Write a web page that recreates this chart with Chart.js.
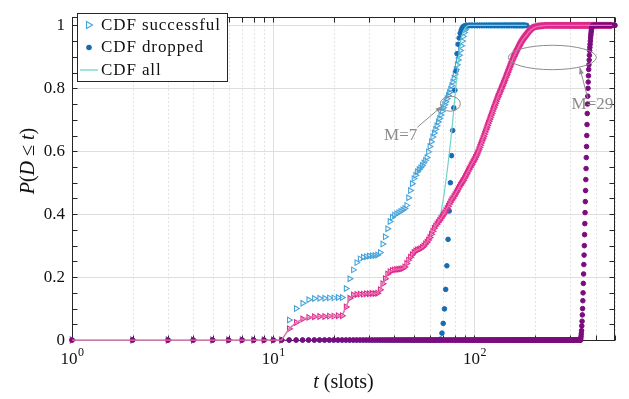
<!DOCTYPE html>
<html>
<head>
<meta charset="utf-8">
<title>Delay CDF</title>
<script src="https://cdn.jsdelivr.net/npm/chart.js@4.4.0/dist/chart.umd.min.js"></script>
<style>
  html, body { margin: 0; padding: 0; background: #fff; }
</style>
</head>
<body>
<canvas id="cdfChart" width="629" height="399"></canvas>
<script>
// ---- data (t in slots, P(D <= t)) ----
const xDecades = [1, 10, 100];
const yTicks = [0, 0.2, 0.4, 0.6, 0.8, 1];

// M = 7, successful packets, t = 12..93
const succ7Rise = [
    0.064, 0.100, 0.117, 0.128, 0.132, 0.133, 0.133, 0.134, 0.134, 0.135,
    0.135, 0.164, 0.195, 0.223, 0.246, 0.258, 0.263, 0.265, 0.267, 0.268,
    0.269, 0.270, 0.278, 0.305, 0.328, 0.354, 0.377, 0.390, 0.397, 0.401,
    0.405, 0.409, 0.413, 0.418, 0.428, 0.452, 0.475, 0.497, 0.513, 0.524,
    0.535, 0.542, 0.548, 0.555, 0.563, 0.571, 0.580, 0.598, 0.615, 0.630,
    0.645, 0.658, 0.670, 0.681, 0.693, 0.704, 0.715, 0.727, 0.738, 0.748,
    0.757, 0.767, 0.777, 0.787, 0.797, 0.808, 0.820, 0.832, 0.845, 0.860,
    0.875, 0.890, 0.905, 0.920, 0.935, 0.950, 0.965, 0.977, 0.986, 0.993,
    0.997, 0.999
];
// M = 7, dropped packets, t = 68..90
const drop7Rise = [
    0.003, 0.022, 0.053, 0.099, 0.161, 0.236, 0.320, 0.410, 0.500, 0.586,
    0.666, 0.738, 0.794, 0.855, 0.910, 0.940, 0.960, 0.975, 0.985, 0.992,
    0.996, 0.998, 0.999
];
// M = 7, all packets (line only)
const tAll7 = [1, 10, 11, 12, 13, 14, 16, 22, 23, 24, 25, 26, 33, 34, 35, 36, 37, 38, 39, 45,
    46, 48, 50, 53, 55, 58, 60, 62, 65, 67, 68, 70, 72, 74, 76, 78, 80, 82, 84, 86,
    88, 90, 92, 94, 182];
const pAll7 = [0, 0, 0, 0.036, 0.056, 0.067, 0.074, 0.077, 0.105, 0.133, 0.143, 0.145, 0.149, 0.160, 0.179, 0.195, 0.210, 0.217, 0.221, 0.232,
    0.243, 0.263, 0.278, 0.288, 0.294, 0.311, 0.326, 0.346, 0.368, 0.380, 0.400, 0.445, 0.500, 0.560, 0.625, 0.695, 0.770, 0.845, 0.915, 0.960,
    0.980, 0.992, 0.998, 1, 1];

// M = 29, successful packets, t = 12..100
const succ29Rise = [
    0.036, 0.056, 0.067, 0.072, 0.074, 0.075, 0.075, 0.076, 0.076, 0.077,
    0.077, 0.105, 0.133, 0.143, 0.145, 0.146, 0.146, 0.147, 0.147, 0.148,
    0.148, 0.149, 0.160, 0.179, 0.195, 0.210, 0.217, 0.221, 0.223, 0.224,
    0.225, 0.226, 0.227, 0.232, 0.243, 0.254, 0.263, 0.271, 0.278, 0.283,
    0.286, 0.288, 0.290, 0.294, 0.299, 0.305, 0.311, 0.318, 0.326, 0.336,
    0.346, 0.355, 0.362, 0.368, 0.374, 0.380, 0.386, 0.392, 0.398, 0.404,
    0.411, 0.418, 0.425, 0.432, 0.439, 0.445, 0.450, 0.456, 0.462, 0.468,
    0.474, 0.480, 0.486, 0.492, 0.497, 0.502, 0.507, 0.513, 0.519, 0.525,
    0.531, 0.537, 0.543, 0.548, 0.554, 0.559, 0.564, 0.569, 0.574
];
// t = 101..200
const succ29Upper = [
    0.580, 0.586, 0.592, 0.598, 0.605, 0.612, 0.619, 0.626, 0.633, 0.640,
    0.647, 0.654, 0.661, 0.668, 0.675, 0.682, 0.689, 0.695, 0.702, 0.708,
    0.715, 0.721, 0.728, 0.734, 0.740, 0.746, 0.752, 0.758, 0.764, 0.770,
    0.775, 0.780, 0.785, 0.790, 0.795, 0.800, 0.805, 0.810, 0.815, 0.820,
    0.825, 0.830, 0.835, 0.840, 0.845, 0.850, 0.855, 0.860, 0.865, 0.870,
    0.875, 0.879, 0.884, 0.888, 0.893, 0.897, 0.901, 0.905, 0.909, 0.912,
    0.916, 0.919, 0.923, 0.926, 0.929, 0.933, 0.936, 0.939, 0.942, 0.945,
    0.947, 0.950, 0.952, 0.955, 0.957, 0.959, 0.961, 0.963, 0.965, 0.967,
    0.969, 0.971, 0.973, 0.975, 0.977, 0.979, 0.980, 0.982, 0.983, 0.985,
    0.986, 0.987, 0.988, 0.989, 0.990, 0.991, 0.992, 0.993, 0.993, 0.994
];
// t = 202..230, every 2 slots
const succ29Top = [0.995, 0.996, 0.996, 0.997, 0.997, 0.998, 0.998, 0.998, 0.999, 0.999,
    0.999, 0.999, 1, 1, 1];
// M = 29, dropped packets, t = 338..389
const drop29Rise = [
    0.005, 0.012, 0.020, 0.030, 0.045, 0.060, 0.080, 0.100, 0.125, 0.150,
    0.180, 0.210, 0.240, 0.270, 0.300, 0.335, 0.370, 0.405, 0.440, 0.475,
    0.510, 0.545, 0.580, 0.615, 0.650, 0.685, 0.720, 0.750, 0.775, 0.800,
    0.820, 0.840, 0.860, 0.875, 0.890, 0.905, 0.920, 0.930, 0.940, 0.950,
    0.960, 0.968, 0.975, 0.982, 0.988, 0.992, 0.994, 0.996, 0.997, 0.998,
    0.999, 1
];

function range(a, b, step) {
    step = step || 1;
    const out = [];
    for (let t = a; t <= b; t += step) out.push(t);
    return out;
}
function flat(n, v) { return new Array(n).fill(v); }
function zip(ts, ps) { return ts.map((t, i) => ({ x: t, y: ps[i] })); }

// assemble series: flat parts are where the curve sits on 0 or 1
const tSucc7 = range(1, 93).concat(range(96, 182, 3));
const pSucc7 = flat(11, 0).concat(succ7Rise, flat(range(96, 182, 3).length, 1));

const tDrop7 = range(1, 90).concat(range(92, 182, 2));
const pDrop7 = flat(67, 0).concat(drop7Rise, flat(range(92, 182, 2).length, 1));

const tSucc29 = range(1, 200).concat(range(202, 230, 2), range(232, 488, 2));
const pSucc29 = flat(11, 0).concat(succ29Rise, succ29Upper, succ29Top, flat(range(232, 488, 2).length, 1));
// the "all" curve for M = 29 lies on the successful one
const tAll29 = tSucc29;
const pAll29 = pSucc29;

const tDrop29 = range(1, 389).concat(range(392, 500, 3));
const pDrop29 = flat(337, 0).concat(drop29Rise, flat(range(392, 500, 3).length, 1));

// ---- colours ----
const cSucc7 = 'rgb(70, 163, 218)';
const cDrop7 = 'rgb(22, 108, 178)';
const cAll7 = 'rgb(112, 212, 200)';
const cSucc29 = 'rgb(222, 40, 138)';
const cAll29 = 'rgb(236, 110, 175)';
const cDrop29 = 'rgb(124, 12, 126)';
const cNote = '#8c8c8c';
const serif = '"Liberation Serif", "Times New Roman", serif';

const notes = [
    { text: 'M=7', at: [43, 0.637], ring: [76, 0.751, 10, 7.5], from: [52, 0.676], to: [69, 0.743] },
    { text: 'M=29', at: [386, 0.735], ring: [244, 0.898, 44, 12.2], from: [366, 0.769], to: [334, 0.866] }
];

Chart.defaults.font.family = serif;

const frame = {
    id: 'frame',
    beforeDatasetsDraw(chart) {
        const { ctx, chartArea: a, scales: { x, y } } = chart;
        ctx.save();
        ctx.lineWidth = 1;
        // vertical grid, minors dashed
        xDecades.forEach(d => {
            for (let k = 1; k <= 9; k++) {
                const t = d * k;
                if (t > x.max) break;
                const px = Math.round(x.getPixelForValue(t)) + 0.5;
                ctx.strokeStyle = k === 1 ? '#dedede' : '#e2e2e2';
                ctx.setLineDash(k === 1 ? [] : [2, 2]);
                ctx.beginPath(); ctx.moveTo(px, a.top); ctx.lineTo(px, a.bottom); ctx.stroke();
            }
        });
        ctx.setLineDash([]);
        ctx.strokeStyle = '#dedede';
        yTicks.forEach(v => {
            const py = Math.round(y.getPixelForValue(v)) + 0.5;
            ctx.beginPath(); ctx.moveTo(a.left, py); ctx.lineTo(a.right, py); ctx.stroke();
        });

        // box with inward ticks
        const L = Math.round(a.left) + 0.5, R = Math.round(a.right) - 0.5;
        const T = Math.round(a.top) + 0.5, B = Math.round(a.bottom) - 0.5;
        ctx.strokeStyle = '#262626';
        ctx.strokeRect(L, T, R - L, B - T);
        ctx.beginPath();
        for (let i = 0; i <= 20; i++) {
            const py = Math.round(y.getPixelForValue(i * 0.05)) + 0.5;
            ctx.moveTo(L, py); ctx.lineTo(L + 5, py);
            ctx.moveTo(R, py); ctx.lineTo(R - 5, py);
        }
        xDecades.forEach(d => {
            for (let k = 1; k <= 9; k++) {
                const t = d * k;
                if (t > x.max) break;
                const px = Math.round(x.getPixelForValue(t)) + 0.5;
                ctx.moveTo(px, B); ctx.lineTo(px, B - 5);
                ctx.moveTo(px, T); ctx.lineTo(px, T + 5);
            }
        });
        ctx.stroke();
        ctx.restore();
    },
    afterDatasetsDraw(chart) {
        const { ctx, chartArea: a, scales: { x, y } } = chart;
        ctx.save();

        // annotations
        ctx.strokeStyle = cNote;
        ctx.fillStyle = cNote;
        ctx.lineWidth = 1;
        notes.forEach(n => {
            const cx = x.getPixelForValue(n.ring[0]), cy = y.getPixelForValue(n.ring[1]);
            ctx.beginPath();
            ctx.ellipse(cx, cy, n.ring[2], n.ring[3], 0, 0, Math.PI * 2);
            ctx.stroke();
            const x0 = x.getPixelForValue(n.from[0]), y0 = y.getPixelForValue(n.from[1]);
            const x1 = x.getPixelForValue(n.to[0]), y1 = y.getPixelForValue(n.to[1]);
            const ang = Math.atan2(y1 - y0, x1 - x0);
            ctx.beginPath(); ctx.moveTo(x0, y0); ctx.lineTo(x1, y1); ctx.stroke();
            ctx.beginPath();
            ctx.moveTo(x1, y1);
            ctx.lineTo(x1 - 7 * Math.cos(ang - 0.35), y1 - 7 * Math.sin(ang - 0.35));
            ctx.lineTo(x1 - 7 * Math.cos(ang + 0.35), y1 - 7 * Math.sin(ang + 0.35));
            ctx.closePath(); ctx.fill();
            ctx.font = '17px ' + serif;
            ctx.textAlign = 'center';
            ctx.textBaseline = 'alphabetic';
            ctx.fillText(n.text, x.getPixelForValue(n.at[0]), y.getPixelForValue(n.at[1]));
        });

        // legend
        ctx.fillStyle = '#fff';
        ctx.fillRect(77, 13, 150, 69);
        ctx.strokeStyle = '#262626';
        ctx.strokeRect(77.5, 13.5, 150, 68);
        ctx.lineWidth = 1.1;
        ctx.strokeStyle = cSucc7;
        ctx.beginPath();
        ctx.moveTo(92.5, 25); ctx.lineTo(86.5, 21.5); ctx.lineTo(86.5, 28.5); ctx.closePath();
        ctx.stroke();
        ctx.fillStyle = cDrop7;
        ctx.beginPath(); ctx.arc(89, 47.5, 2.8, 0, Math.PI * 2); ctx.fill();
        ctx.strokeStyle = cAll7;
        ctx.lineWidth = 1.3;
        ctx.beginPath(); ctx.moveTo(80, 70); ctx.lineTo(98, 70); ctx.stroke();
        ctx.fillStyle = '#111';
        ctx.font = '17px ' + serif;
        ctx.textAlign = 'left';
        ctx.letterSpacing = '0.9px';
        ctx.fillText('CDF successful', 101, 30);
        ctx.fillText('CDF dropped', 101, 52);
        ctx.fillText('CDF all', 101, 74.5);
        ctx.letterSpacing = '0px';

        // x tick labels 10^k
        xDecades.forEach((d, k) => {
            const px = x.getPixelForValue(d);
            ctx.font = '17px ' + serif;
            const wb = ctx.measureText('10').width;
            ctx.font = '12px ' + serif;
            const we = ctx.measureText(String(k)).width;
            const left = px - (wb + we) / 2;
            ctx.font = '17px ' + serif;
            ctx.fillText('10', left, 364);
            ctx.font = '12px ' + serif;
            ctx.fillText(String(k), left + wb + 0.5, 356);
        });

        // x axis title: t (slots)
        ctx.font = 'italic 20px ' + serif;
        const wt = ctx.measureText('t').width;
        ctx.font = '20px ' + serif;
        const ws = ctx.measureText(' (slots)').width;
        let xs = (a.left + a.right) / 2 - (wt + ws) / 2;
        ctx.font = 'italic 20px ' + serif;
        ctx.fillText('t', xs, 388);
        ctx.font = '20px ' + serif;
        ctx.fillText(' (slots)', xs + wt, 388);

        // y axis title: P(D <= t)
        const parts = [['P', true], ['(', false], ['D', true], [' \u2264 ', false], ['t', true], [')', false]];
        ctx.translate(34, 161);
        ctx.rotate(-Math.PI / 2);
        let total = 0;
        parts.forEach(p => {
            ctx.font = (p[1] ? 'italic ' : '') + '20px ' + serif;
            total += ctx.measureText(p[0]).width;
        });
        let cx = -total / 2;
        parts.forEach(p => {
            ctx.font = (p[1] ? 'italic ' : '') + '20px ' + serif;
            ctx.fillText(p[0], cx, 0);
            cx += ctx.measureText(p[0]).width;
        });
        ctx.restore();
    }
};

const ctx = document.getElementById('cdfChart').getContext('2d');

const cdfChart = new Chart(ctx, {
    type: 'scatter',
    data: {
        datasets: [
            {
                label: 'CDF all (M=29)',
                data: zip(tAll29, pAll29),
                showLine: true,
                borderColor: cAll29,
                borderWidth: 1.3,
                pointRadius: 0,
                clip: false
            },
            {
                label: 'CDF dropped (M=29)',
                data: zip(tDrop29, pDrop29),
                pointStyle: 'circle',
                pointRadius: 2.3,
                pointBorderWidth: 1,
                borderColor: cDrop29,
                backgroundColor: cDrop29,
                clip: false
            },
            {
                label: 'CDF successful (M=29)',
                data: zip(tSucc29, pSucc29),
                pointStyle: 'triangle',
                rotation: 90,
                pointRadius: 3.2,
                pointBorderWidth: 1.1,
                borderColor: cSucc29,
                backgroundColor: 'rgba(255,255,255,0)',
                clip: false
            },
            {
                label: 'CDF all',
                data: zip(tAll7, pAll7),
                showLine: true,
                borderColor: cAll7,
                borderWidth: 1.2,
                pointRadius: 0,
                clip: false
            },
            {
                label: 'CDF dropped',
                data: zip(tDrop7, pDrop7),
                pointStyle: 'circle',
                pointRadius: 2.3,
                pointBorderWidth: 1,
                borderColor: cDrop7,
                backgroundColor: cDrop7,
                clip: false
            },
            {
                label: 'CDF successful',
                data: zip(tSucc7, pSucc7),
                pointStyle: 'triangle',
                rotation: 90,
                pointRadius: 3.2,
                pointBorderWidth: 1.1,
                borderColor: cSucc7,
                backgroundColor: 'rgba(255,255,255,0)',
                clip: false
            }
        ]
    },
    options: {
        responsive: false,
        animation: false,
        devicePixelRatio: 1,
        layout: { padding: { top: 6, right: 14, left: 0, bottom: 0 } },
        plugins: {
            legend: { display: false },
            tooltip: { enabled: false }
        },
        scales: {
            x: {
                type: 'logarithmic',
                min: 1,
                max: 500,
                grid: { display: false, drawTicks: false },
                border: { display: false },
                ticks: { display: false },
                afterFit: function (scale) { scale.height = 58; }
            },
            y: {
                min: -0.003,
                max: 1.026,
                grid: { display: false, drawTicks: false },
                border: { display: false },
                afterBuildTicks: function (scale) {
                    scale.ticks = yTicks.map(v => ({ value: v }));
                },
                ticks: {
                    padding: 7,
                    color: '#111',
                    font: { size: 17, family: serif },
                    callback: v => (v === 0 || v === 1) ? String(v) : v.toFixed(1)
                },
                afterFit: function (scale) { scale.width = 72; }
            }
        }
    },
    plugins: [frame]
});
</script>
</body>
</html>
